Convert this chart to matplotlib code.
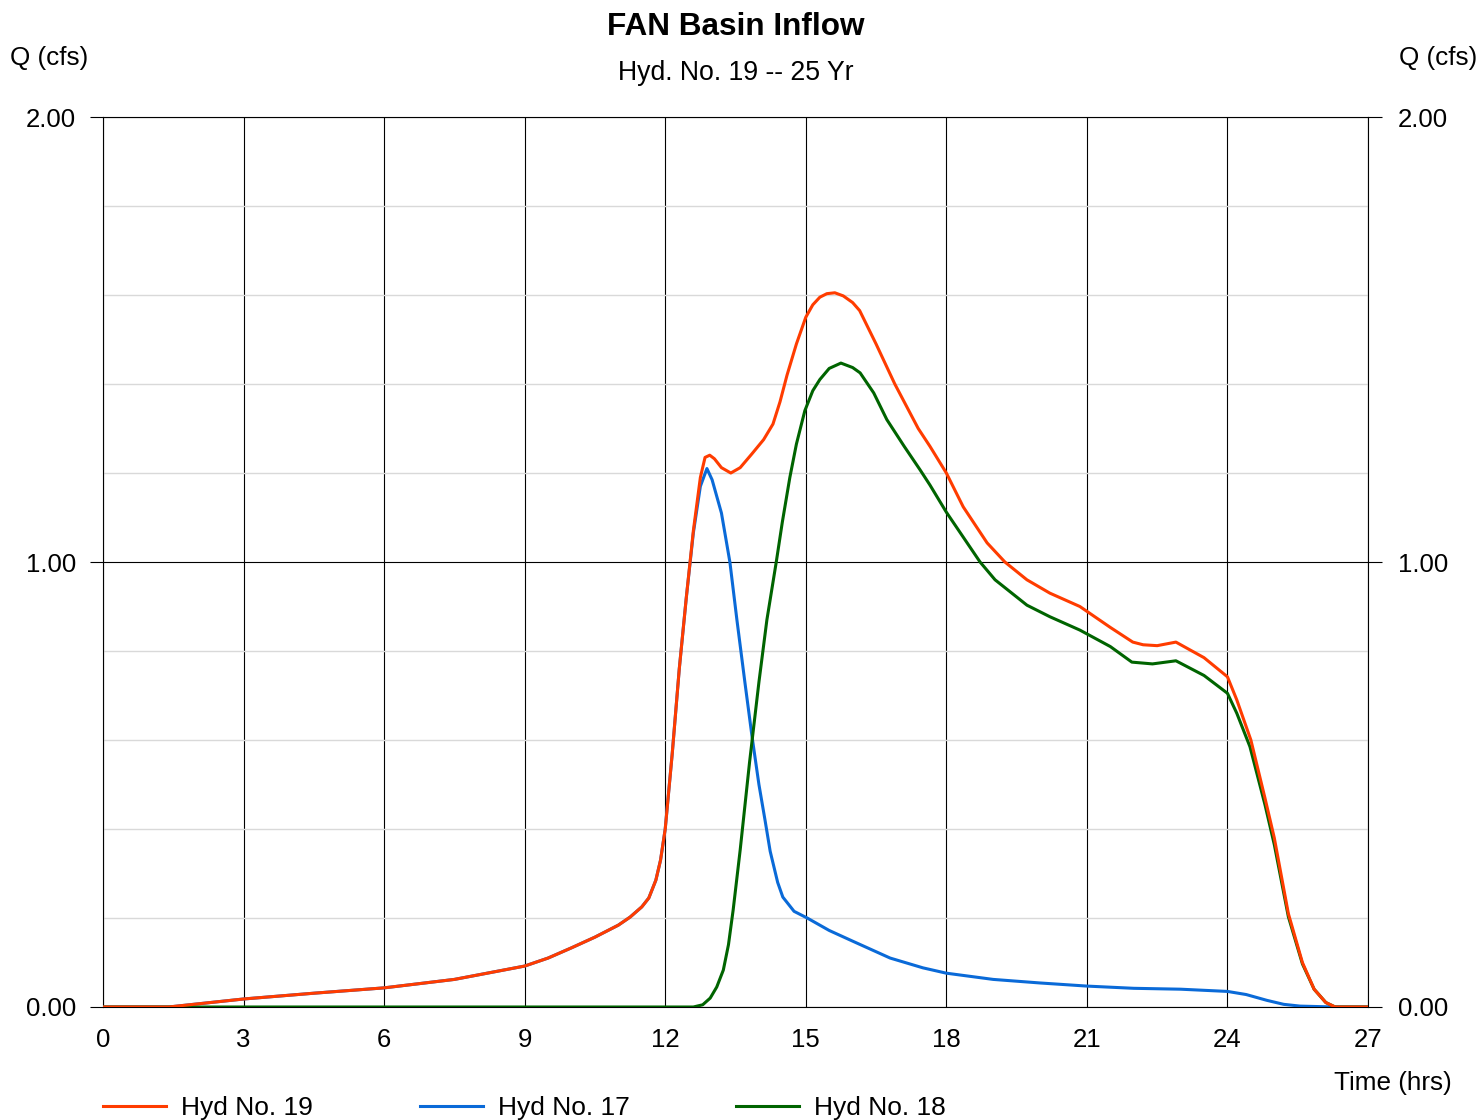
import matplotlib
matplotlib.use("Agg")
import matplotlib.pyplot as plt
from matplotlib.lines import Line2D
import numpy as np

plt.rcParams['font.family'] = ['Liberation Sans', 'DejaVu Sans']

# Hyd No. 19 (combined inflow)
t19 = [0, 1.4, 3, 4.5, 6, 7.5, 9, 9.5, 10, 10.5, 11, 11.25, 11.5, 11.65, 11.8, 11.9,
       12.0, 12.15, 12.3, 12.45, 12.6, 12.75, 12.85, 12.95, 13.05, 13.2, 13.4, 13.6,
       13.85, 14.1, 14.3, 14.45, 14.6, 14.8, 15.0, 15.15, 15.3, 15.45, 15.62, 15.8,
       16.0, 16.15, 16.5, 16.9, 17.4, 17.65, 18.0, 18.36, 18.87, 19.25, 19.72, 20.21,
       20.85, 21.5, 21.98, 22.2, 22.5, 22.9, 23.5, 24.0, 24.2, 24.5, 24.8, 25.0, 25.3,
       25.6, 25.85, 26.1, 26.3, 27]
q19 = [0, 0, 0.018, 0.031, 0.043, 0.062, 0.092, 0.11, 0.133, 0.157, 0.184, 0.202,
       0.225, 0.245, 0.285, 0.33, 0.40, 0.57, 0.76, 0.92, 1.07, 1.19, 1.235, 1.24,
       1.232, 1.212, 1.20, 1.212, 1.243, 1.275, 1.31, 1.36, 1.42, 1.49, 1.55, 1.578,
       1.595, 1.603, 1.605, 1.598, 1.583, 1.565, 1.49, 1.40, 1.30, 1.26, 1.20, 1.124,
       1.043, 1.0, 0.96, 0.93, 0.90, 0.853, 0.82, 0.814, 0.812, 0.82, 0.785, 0.742,
       0.69, 0.60, 0.47, 0.38, 0.21, 0.10, 0.04, 0.01, 0.0, 0]

# Hyd No. 17
t17 = [0, 1.4, 3, 4.5, 6, 7.5, 9, 9.5, 10, 10.5, 11, 11.25, 11.5, 11.65, 11.8, 11.9,
       12.0, 12.15, 12.3, 12.45, 12.6, 12.75, 12.89, 13.0, 13.2, 13.38, 13.53, 13.7,
       13.85, 14.0, 14.13, 14.24, 14.4, 14.51, 14.75, 15.03, 15.5, 16.0, 16.8, 17.5,
       18.0, 19.0, 20.0, 21.0, 22.0, 23.0, 24.0, 24.4, 24.84, 25.2, 25.55, 26.3, 27]
q17 = [0, 0, 0.018, 0.031, 0.043, 0.062, 0.092, 0.11, 0.133, 0.157, 0.184, 0.202,
       0.225, 0.245, 0.285, 0.33, 0.40, 0.57, 0.76, 0.92, 1.065, 1.17, 1.21, 1.185,
       1.11, 1.0, 0.87, 0.73, 0.61, 0.50, 0.42, 0.35, 0.28, 0.247, 0.215, 0.20, 0.172,
       0.148, 0.11, 0.088, 0.076, 0.062, 0.054, 0.047, 0.042, 0.040, 0.035, 0.028,
       0.015, 0.006, 0.002, 0, 0]

# Hyd No. 18
t18 = [0, 12.6, 12.8, 12.96, 13.1, 13.24, 13.35, 13.45, 13.6, 13.8, 14.0, 14.17, 14.37,
       14.5, 14.66, 14.8, 14.98, 15.15, 15.3, 15.5, 15.75, 16.0, 16.16, 16.45, 16.73,
       17.1, 17.44, 17.65, 18.0, 18.72, 19.04, 19.72, 20.21, 20.85, 21.5, 21.96, 22.4,
       22.9, 23.5, 24.0, 24.2, 24.48, 24.8, 25.0, 25.3, 25.6, 25.85, 26.1, 26.3, 27]
q18 = [0, 0, 0.005, 0.02, 0.045, 0.083, 0.14, 0.218, 0.353, 0.55, 0.73, 0.87, 1.0,
       1.09, 1.19, 1.265, 1.34, 1.385, 1.41, 1.435, 1.447, 1.437, 1.425, 1.38, 1.32,
       1.26, 1.207, 1.173, 1.112, 1.0, 0.96, 0.903, 0.877, 0.847, 0.81, 0.775, 0.771,
       0.778, 0.745, 0.705, 0.66, 0.585, 0.455, 0.365, 0.203, 0.097, 0.04, 0.01, 0, 0]

x_ticks = [0, 3, 6, 9, 12, 15, 18, 21, 24, 27]
y_ticks = [0, 1, 2]

RED = '#ff3c00'
BLUE = '#0a6ad8'
GREEN = '#006400'

W, H = 1481, 1120
fig = plt.figure(figsize=(W / 100, H / 100), dpi=100)
ax = fig.add_axes([103 / W, 113 / H, 1265 / W, 890 / H])

ax.plot(t17, q17, color=BLUE, lw=2.2, zorder=3)
ax.plot(t18, q18, color=GREEN, lw=2.2, zorder=4)
ax.plot(t19, q19, color=RED, lw=2.2, zorder=5)

ax.set_xlim(0, 27)
ax.set_ylim(0, 2)
ax.set_xticks(x_ticks)
ax.set_yticks(y_ticks)
ax.set_yticks(np.arange(0.2, 2.0, 0.2), minor=True)
ax.set_yticklabels([f"{v:.2f}" for v in y_ticks])
ax.grid(which='major', color='black', lw=0.8)
ax.grid(which='minor', axis='y', color='#d9d9d9', lw=1.0)
ax.set_axisbelow(True)
ax.tick_params(axis='x', length=0, pad=15, labelsize=18.5)
ax.tick_params(axis='y', which='major', direction='out', length=9.5, width=0.8,
               pad=10, labelsize=18.5)
ax.tick_params(which='minor', length=0)
for s in ax.spines.values():
    s.set_linewidth(0.8)
    s.set_color('black')

ax2 = ax.twinx()
ax2.set_ylim(0, 2)
ax2.set_yticks(y_ticks)
ax2.set_yticklabels([f"{v:.2f}" for v in y_ticks])
ax2.tick_params(axis='y', direction='out', length=10, width=0.8, pad=11.5, labelsize=18.5)
for s in ax2.spines.values():
    s.set_visible(False)

fig.text(736 / W, 1 - 27 / H, "FAN Basin Inflow", ha='center', va='center',
         fontsize=22.7, fontweight='bold')
fig.text(736 / W, 1 - 73 / H, "Hyd. No. 19 -- 25 Yr", ha='center', va='center',
         fontsize=19.2)
fig.text(10 / W, 1 - 58 / H, "Q (cfs)", ha='left', va='center', fontsize=18.8)
fig.text(1477 / W, 1 - 58 / H, "Q (cfs)", ha='right', va='center', fontsize=18.8)
fig.text(1452 / W, 1 - 1083 / H, "Time (hrs)", ha='right', va='center', fontsize=18.8)

# legend along the bottom edge
legend_items = [("Hyd No. 19", RED, 103), ("Hyd No. 17", BLUE, 420), ("Hyd No. 18", GREEN, 736)]
for label, color, x0 in legend_items:
    fig.add_artist(Line2D([x0 / W, (x0 + 63) / W], [1 - 1106 / H, 1 - 1106 / H],
                          color=color, lw=2.2, transform=fig.transFigure))
    fig.text((x0 + 78) / W, 1 - 1115 / H, label, ha='left', va='baseline', fontsize=19)

fig.savefig("out.png", dpi=100)
